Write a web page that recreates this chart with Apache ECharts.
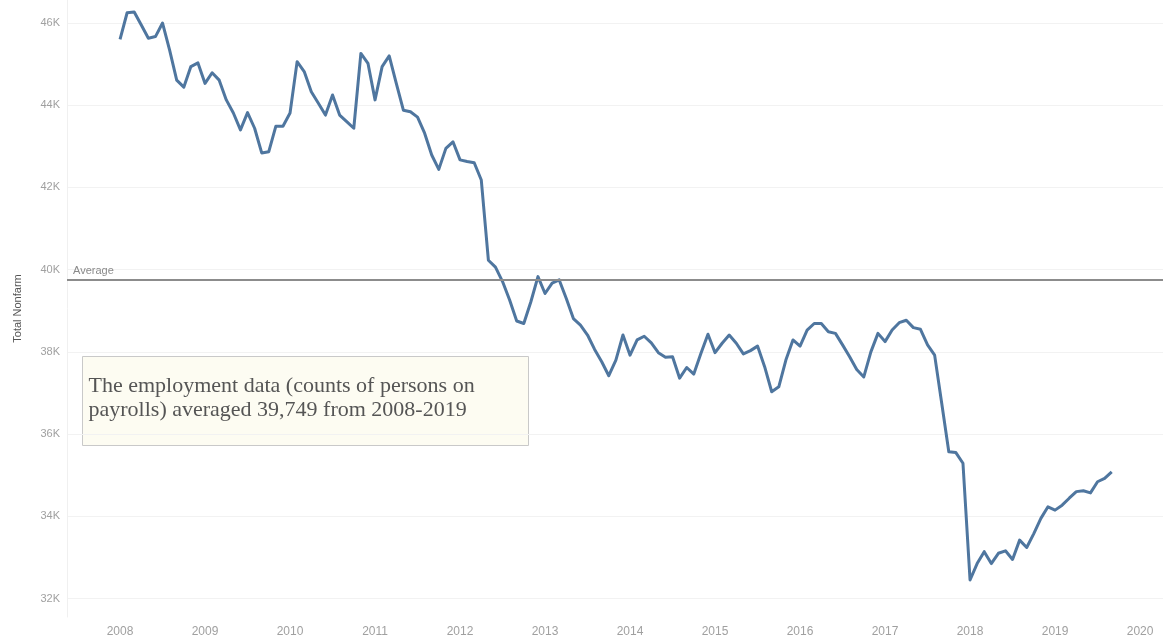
<!DOCTYPE html>
<html>
<head>
<meta charset="utf-8">
<title>Total Nonfarm</title>
<script src="https://cdn.jsdelivr.net/npm/echarts@6/dist/echarts.min.js"></script>
<style>
  html, body { margin: 0; padding: 0; background: #ffffff; }
  #chart { width: 1163px; height: 638px; }
</style>
</head>
<body>
<div id="chart"></div>
<script>
// Monthly Total Nonfarm counts, January to December of each year
const y2008 = [45600, 46250, 46270, 45950, 45630, 45670, 46000, 45340, 44610, 44440, 44940, 45030];
const y2009 = [44530, 44790, 44610, 44130, 43810, 43400, 43820, 43440, 42840, 42870, 43490, 43490];
const y2010 = [43810, 45060, 44820, 44330, 44050, 43760, 44250, 43760, 43600, 43440, 45260, 45020];
const y2011 = [44130, 44940, 45200, 44530, 43880, 43840, 43710, 43320, 42790, 42440, 42950, 43110];
const y2012 = [42670, 42630, 42600, 42180, 40230, 40060, 39710, 39260, 38750, 38690, 39220, 39830];
const y2013 = [39420, 39670, 39750, 39300, 38810, 38650, 38410, 38060, 37760, 37420, 37800, 38410];
const y2014 = [37920, 38290, 38380, 38220, 37980, 37870, 37880, 37360, 37620, 37460, 37960, 38430];
const y2015 = [37980, 38210, 38410, 38210, 37950, 38030, 38140, 37640, 37030, 37150, 37800, 38290];
const y2016 = [38140, 38530, 38690, 38690, 38490, 38450, 38170, 37880, 37570, 37390, 38000, 38450];
const y2017 = [38250, 38530, 38710, 38770, 38590, 38550, 38170, 37920, 36750, 35570, 35550, 35290];
const y2018 = [32450, 32850, 33140, 32850, 33100, 33160, 32950, 33420, 33240, 33580, 33950, 34230];
const y2019 = [34150, 34270, 34440, 34600, 34620, 34570, 34840, 34920, 35080];

const years = [2008, 2009, 2010, 2011, 2012, 2013, 2014, 2015, 2016, 2017, 2018, 2019];
const yearValues = [y2008, y2009, y2010, y2011, y2012, y2013, y2014, y2015, y2016, y2017, y2018, y2019];

const yearTicks = [2008, 2009, 2010, 2011, 2012, 2013, 2014, 2015, 2016, 2017, 2018, 2019, 2020];
const valueTicks = [32000, 34000, 36000, 38000, 40000, 42000, 44000, 46000];

const averageValue = 39749;
const noteLines = [
  'The employment data (counts of persons on',
  'payrolls) averaged 39,749 from 2008-2019'
];

// Points on a fractional-year scale (month m sits at year + m/12)
const points = [];
years.forEach((yr, k) => {
  yearValues[k].forEach((v, m) => points.push([yr + m / 12, v]));
});

const chart = echarts.init(document.getElementById('chart'), null, { renderer: 'canvas' });

chart.setOption({
  animation: false,
  backgroundColor: '#ffffff',
  grid: { left: 67, right: 0, top: 0, bottom: 21, containLabel: false },
  xAxis: {
    type: 'value',
    min: 2007.376,
    max: 2020.27,
    axisLine: { show: false },
    axisTick: { show: false, customValues: yearTicks },
    splitLine: { show: false },
    axisLabel: {
      customValues: yearTicks,
      formatter: v => String(Math.round(v)),
      color: '#a0a0a0',
      fontFamily: 'Liberation Sans, Arial, sans-serif',
      fontSize: 12,
      margin: 9
    }
  },
  yAxis: {
    type: 'value',
    min: 31550,
    max: 46560,
    name: 'Total Nonfarm',
    nameLocation: 'middle',
    nameGap: 44,
    nameTextStyle: { color: '#555555', fontSize: 11, fontFamily: 'Liberation Sans, Arial, sans-serif' },
    axisLine: { show: true, lineStyle: { color: '#f0f0f0', width: 1 } },
    axisTick: { show: false, customValues: valueTicks },
    splitLine: { show: true, lineStyle: { color: '#f2f2f2', width: 1 } },
    axisLabel: {
      customValues: valueTicks,
      formatter: v => (v / 1000) + 'K',
      color: '#a0a0a0',
      fontFamily: 'Liberation Sans, Arial, sans-serif',
      fontSize: 11,
      margin: 7
    }
  },
  series: [{
    type: 'line',
    data: points,
    showSymbol: false,
    symbol: 'none',
    lineStyle: { color: '#4f769f', width: 3, join: 'round' },
    markLine: {
      silent: true,
      symbol: ['none', 'none'],
      lineStyle: { color: '#8c8c8c', width: 2, type: 'solid' },
      label: {
        show: true,
        position: 'insideStartTop',
        formatter: 'Average',
        color: '#8a8a8a',
        fontSize: 11,
        fontFamily: 'Liberation Sans, Arial, sans-serif',
        distance: [6, 4]
      },
      data: [{ yAxis: averageValue }]
    }
  }],
  graphic: [{
    type: 'group',
    left: 82,
    top: 356,
    children: [{
      type: 'rect',
      shape: { x: 0, y: 0, width: 446, height: 89 },
      style: { fill: '#fdfcf2', stroke: '#c9c9c9', lineWidth: 1 }
    }, {
      type: 'text',
      x: 6,
      y: 18,
      style: {
        text: noteLines.join('\n'),
        fill: '#555555',
        font: '22px "Liberation Serif", "Times New Roman", serif',
        lineHeight: 24
      }
    }]
  }]
});
</script>
</body>
</html>
